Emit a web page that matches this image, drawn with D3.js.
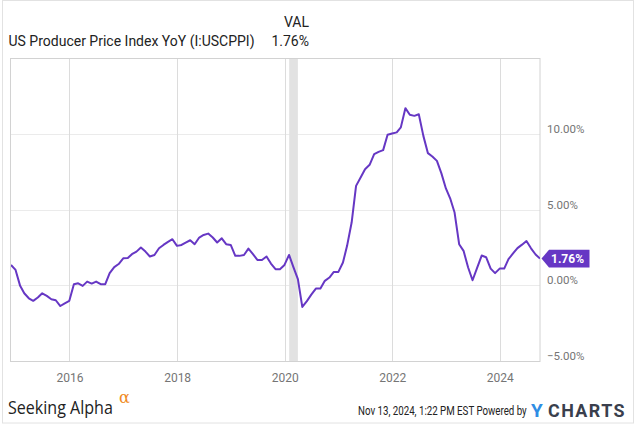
<!DOCTYPE html>
<html><head><meta charset="utf-8">
<script src="https://cdn.jsdelivr.net/npm/d3@7"></script>
<style>
html,body{margin:0;padding:0;background:#fff;}
svg{display:block;font-family:Roboto,"Noto Sans",sans-serif;}
</style></head><body>
<svg id="chart" width="635" height="424"></svg>
<script>
// ---- data (monthly, month-end, starting Nov 2014) ----
const firstMonth = "2014-11-01";
const ppiYoY = [
  1.34, 1.01, -0.04, -0.53, -0.86, -1.03, -0.81, -0.53, -0.70, -0.92, -0.99, -1.37,
  -1.19, -1.03, 0.07, 0.13, -0.04, 0.24, 0.11, 0.24, 0.07, 0.07, 0.80, 1.20,
  1.40, 1.78, 1.80, 2.05, 2.22, 2.49, 2.22, 1.90, 2.00, 2.44, 2.66, 2.86,
  3.04, 2.60, 2.66, 2.82, 2.97, 2.71, 3.15, 3.32, 3.41, 3.15, 2.82, 3.10,
  2.71, 2.66, 1.94, 1.94, 2.00, 2.42, 2.05, 1.67, 1.67, 1.90, 1.43, 1.06,
  1.06, 1.34, 2.00, 1.21, 0.40, -1.43, -1.05, -0.62, -0.22, -0.22, 0.29, 0.51,
  0.88, 0.88, 1.50, 2.60, 4.14, 6.56, 7.11, 7.66, 7.95, 8.65, 8.80, 8.92,
  9.93, 10.02, 10.09, 10.42, 11.69, 11.25, 11.18, 11.29, 9.86, 8.72, 8.50, 8.21,
  7.40, 6.39, 5.68, 4.80, 2.71, 2.27, 1.17, 0.33, 1.15, 1.96, 1.85, 1.10,
  0.80, 1.10, 1.10, 1.72, 2.10, 2.45, 2.68, 2.92, 2.44, 2.03, 1.76
];
const yTicks = [-5, 0, 5, 10];
const yDomain = [-5, 15];
const xTickYears = [2016, 2018, 2020, 2022, 2024];
const recession = ["2020-02-01", "2020-03-31"];
const seriesName = "US Producer Price Index YoY (I:USCPPI)";
const lastValueText = "1.76%";
const timestamp = "Nov 13, 2024, 1:22 PM EST Powered by";

// ---- layout ----
const P = {left: 11, right: 540, top: 58, bottom: 361};
const lineColor = "#6637c4";

const svg = d3.select("#chart");
const start = new Date(firstMonth + "T00:00:00Z");
const dates = ppiYoY.map((_, i) => d3.utcDay.offset(d3.utcMonth.offset(start, i + 1), -1));
const data = ppiYoY.map((v, i) => ({date: dates[i], value: v}));

const x = d3.scaleUtc().domain([dates[0], dates[dates.length - 1]]).range([P.left, P.right]);
const y = d3.scaleLinear().domain(yDomain).range([P.bottom, P.top]);

// outer frame
svg.append("rect").attr("x", 2.5).attr("y", 0.5).attr("width", 631).attr("height", 422.5)
  .attr("fill", "none").attr("stroke", "#e2e2e2");

// horizontal grid
svg.append("g").selectAll("line").data(yTicks.filter(d => d > yDomain[0])).join("line")
  .attr("x1", P.left).attr("x2", P.right)
  .attr("y1", d => Math.round(y(d)) + 0.5).attr("y2", d => Math.round(y(d)) + 0.5)
  .attr("stroke", "#ebebeb");

// vertical grid
const yearDates = xTickYears.map(yr => new Date(Date.UTC(yr, 0, 1)));
svg.append("g").selectAll("line").data(yearDates).join("line")
  .attr("x1", d => Math.round(x(d)) + 0.5).attr("x2", d => Math.round(x(d)) + 0.5)
  .attr("y1", P.top).attr("y2", P.bottom)
  .attr("stroke", "#dcdcdc");

// recession band
const r0 = x(new Date(recession[0] + "T00:00:00Z")), r1 = x(new Date(recession[1] + "T00:00:00Z"));
svg.append("rect").attr("x", r0).attr("y", P.top).attr("width", r1 - r0).attr("height", P.bottom - P.top)
  .attr("fill", "#e2e2e2");

// plot border
svg.append("rect").attr("x", P.left - 0.5).attr("y", P.top + 0.5)
  .attr("width", P.right - P.left + 0.5).attr("height", P.bottom - P.top)
  .attr("fill", "none").attr("stroke", "#d2d2d2");

// line
svg.append("defs").append("clipPath").attr("id", "clip").append("rect")
  .attr("x", P.left).attr("y", P.top).attr("width", P.right - P.left).attr("height", P.bottom - P.top);
svg.append("path").datum(data)
  .attr("clip-path", "url(#clip)")
  .attr("fill", "none").attr("stroke", lineColor).attr("stroke-width", 2)
  .attr("stroke-linejoin", "round")
  .attr("d", d3.line().x(d => x(d.date)).y(d => y(d.value)));

// right axis
const yAxis = svg.append("g").attr("transform", `translate(${P.right},0)`)
  .call(d3.axisRight(y).tickValues(yTicks).tickFormat(d => d3.format(".2f")(d) + "%").tickSize(0).tickPadding(7));
yAxis.select(".domain").remove();
yAxis.selectAll("text").attr("fill", "#757575").attr("font-size", "11.5px").attr("dy", "-0.12em")
  .attr("font-family", "Roboto, sans-serif");

// bottom axis
const xAxis = svg.append("g").attr("transform", `translate(0,${P.bottom})`)
  .call(d3.axisBottom(x).tickValues(yearDates).tickFormat(d3.utcFormat("%Y")).tickSize(0).tickPadding(12));
xAxis.select(".domain").remove();
xAxis.selectAll("text").attr("fill", "#757575").attr("font-size", "12px")
  .attr("font-family", "Roboto, sans-serif");

// last value tag
const last = data[data.length - 1];
const tag = svg.append("g").attr("transform", `translate(${P.right + 1.5},${y(last.value)})`);
tag.append("path").attr("d", "M0,0 L7.5,-8.8 L48,-8.8 L48,8.8 L7.5,8.8 Z").attr("fill", lineColor);
tag.append("text").attr("x", 9.5).attr("dy", "0.36em").attr("fill", "#fff")
  .attr("font-size", "12px").attr("font-weight", "bold").text(lastValueText);

// header
svg.append("text").attr("x", 8.5).attr("y", 45.5).attr("font-size", "14px").attr("fill", "#222")
  .text(seriesName);
svg.append("text").attr("x", 309).attr("y", 27).attr("text-anchor", "end").attr("font-size", "14px").attr("fill", "#222")
  .text("VAL");
svg.append("text").attr("x", 309).attr("y", 45.5).attr("text-anchor", "end").attr("font-size", "14px").attr("fill", "#222")
  .text(lastValueText);

// footer: texts squeezed horizontally with a transform so their boxes do not overlap
function fitText(sel, x0, y0, width) {
  const w = sel.node().getComputedTextLength();
  sel.attr("x", 0).attr("y", 0).attr("transform", `translate(${x0},${y0}) scale(${width / w},1)`);
  return sel;
}
fitText(svg.append("text").attr("font-size", "19px").attr("fill", "#222")
  .attr("font-family", "'Open Sans', Roboto, sans-serif")
  .text("Seeking Alpha"), 8, 414, 105);
svg.append("text").attr("x", 119).attr("y", 403).attr("font-size", "16px").attr("fill", "#f08a24")
  .attr("font-family", "'DejaVu Serif', serif")
  .text("α");
fitText(svg.append("text").attr("font-size", "12px").attr("fill", "#222")
  .attr("font-family", "Roboto, sans-serif")
  .text(timestamp), 358, 415, 169);
svg.append("text").attr("x", 531).attr("y", 417).attr("font-size", "19px").attr("font-weight", "bold")
  .attr("fill", "#2f8de4").attr("font-family", "Roboto, sans-serif").text("Y");
fitText(svg.append("text").attr("font-size", "19px").attr("font-weight", "bold")
  .attr("fill", "#3a3f4d").attr("font-family", "Roboto, sans-serif")
  .attr("letter-spacing", "1.5")
  .text("CHARTS"), 548, 417, 78);
</script>
</body></html>
